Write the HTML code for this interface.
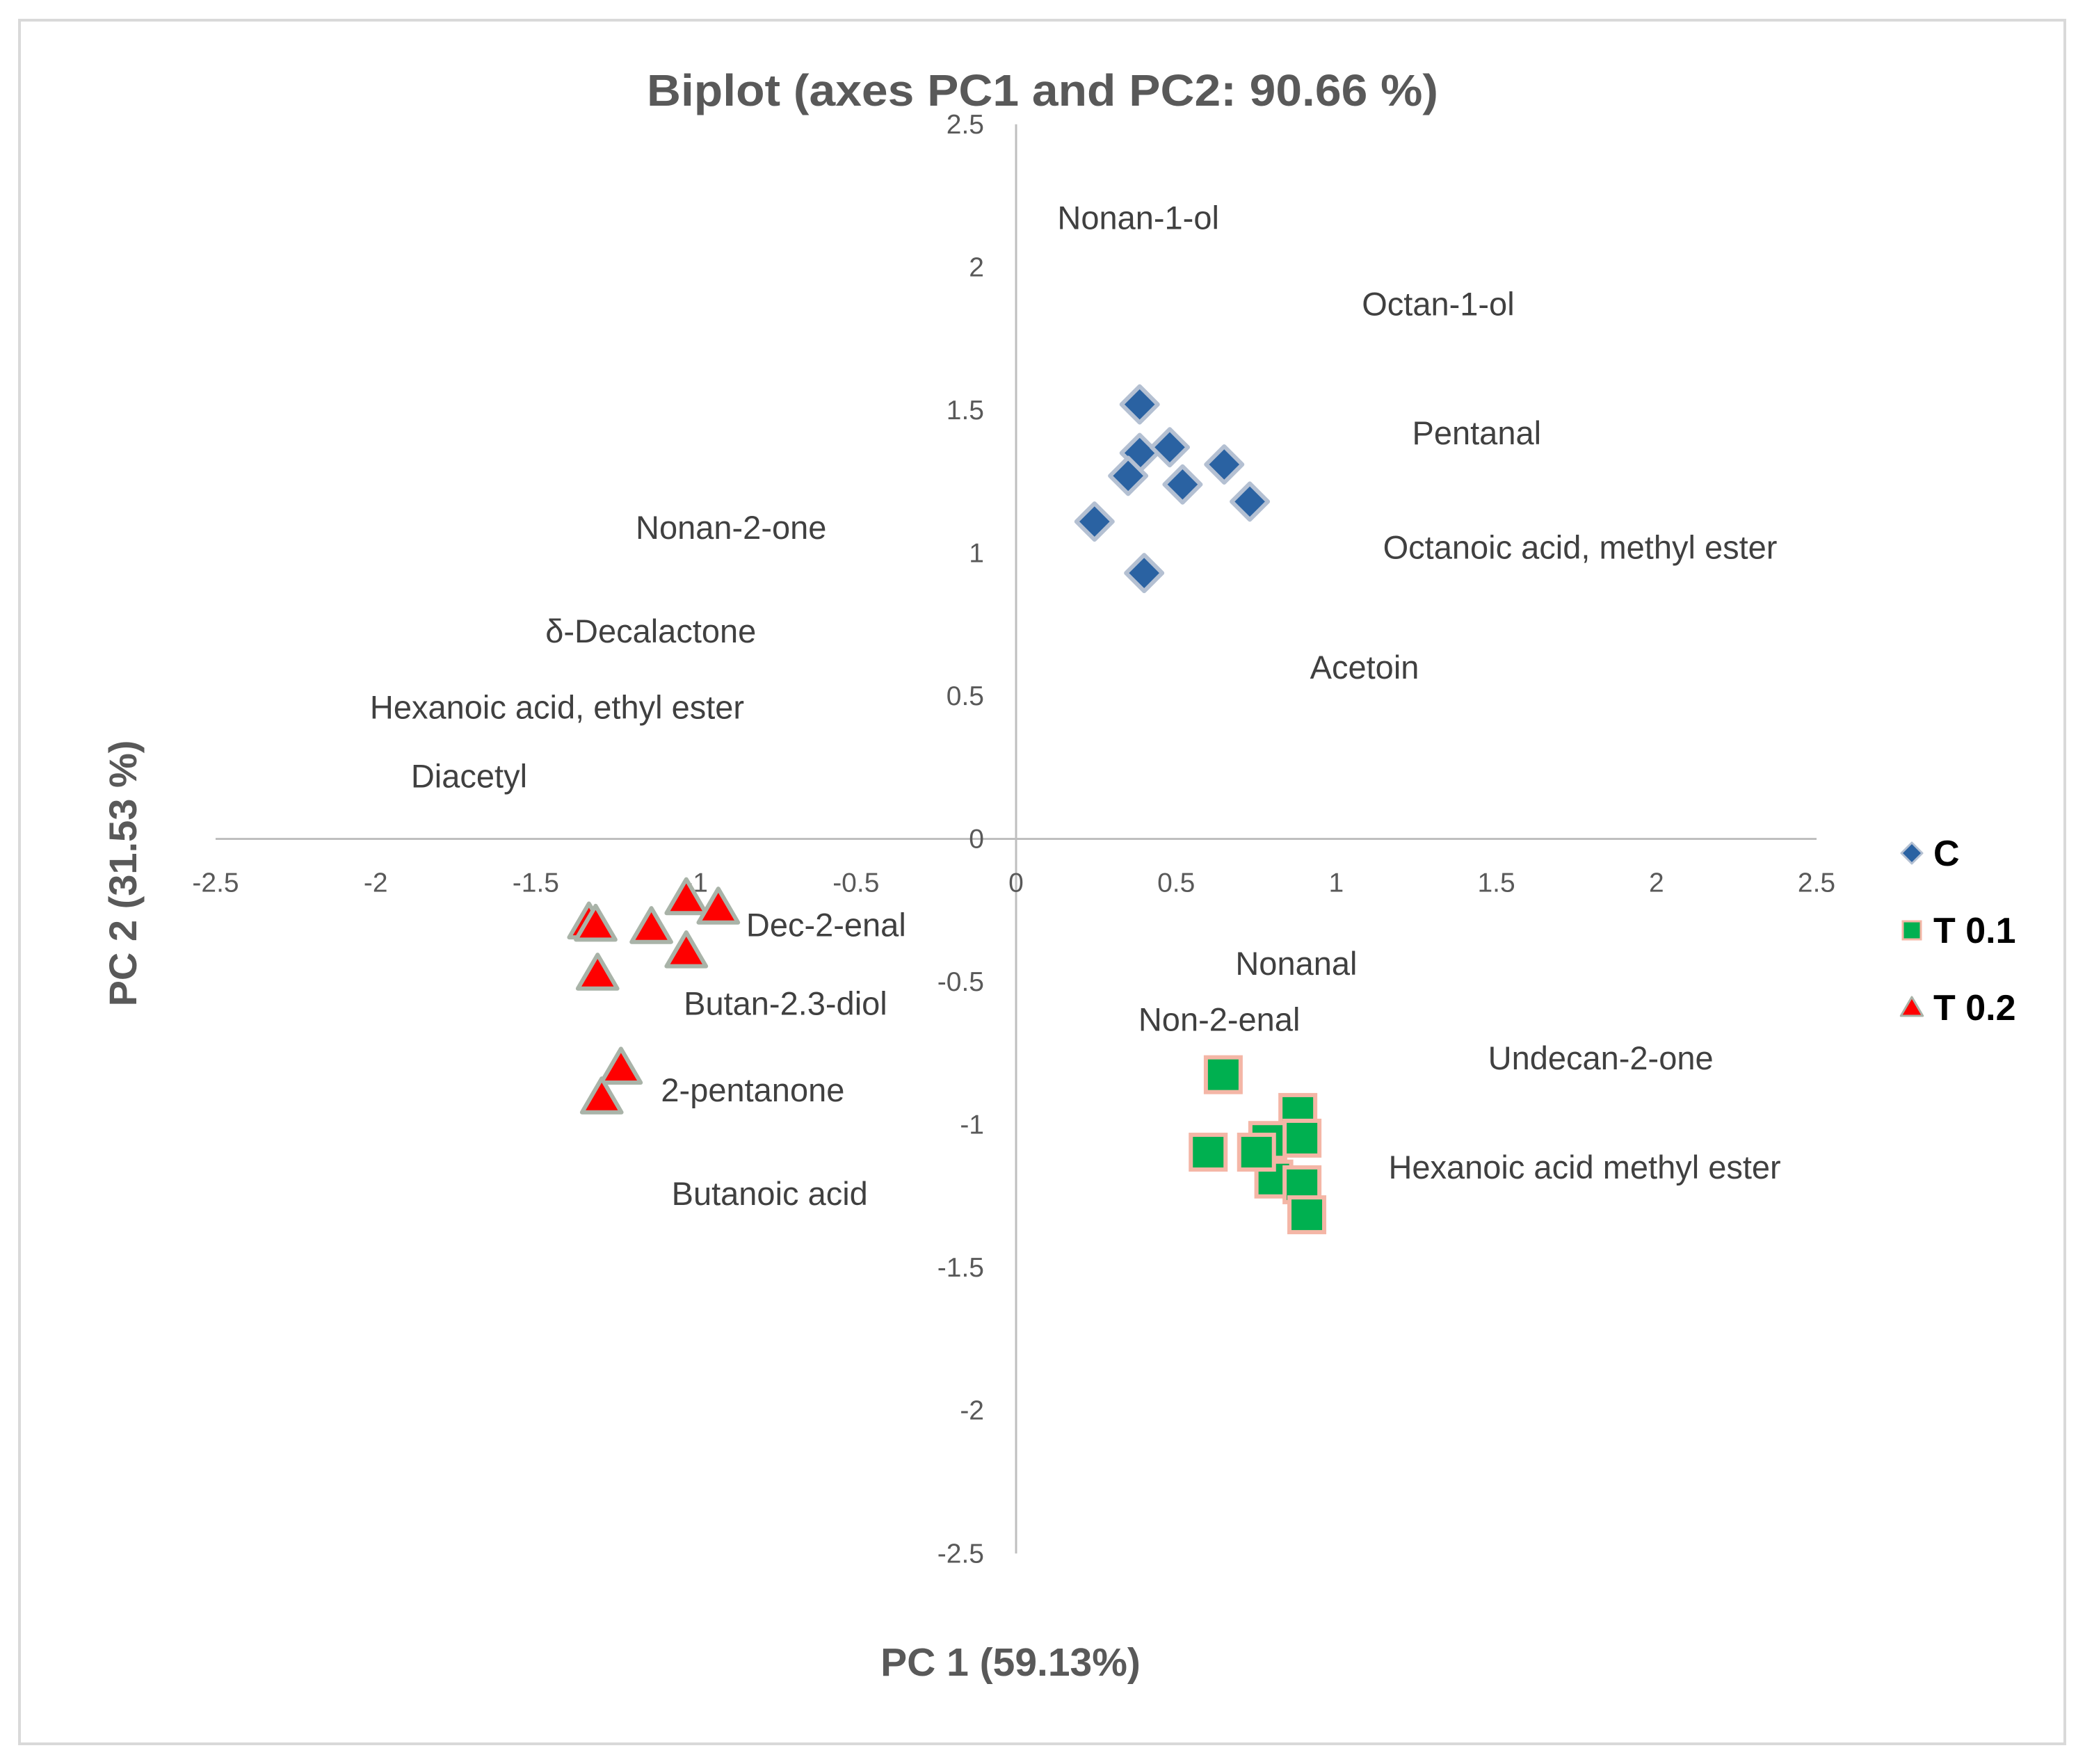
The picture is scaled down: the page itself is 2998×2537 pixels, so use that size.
<!DOCTYPE html>
<html><head><meta charset="utf-8"><style>
html,body{margin:0;padding:0;background:#fff}
svg{display:block}
text{font-family:"Liberation Sans",sans-serif}
</style></head><body>
<svg id="chart" width="2998" height="2537" viewBox="0 0 2998 2537">
<rect x="28" y="29" width="2941" height="2479" fill="#fff" stroke="#d9d9d9" stroke-width="4"/>
<text x="1499" y="152" text-anchor="middle" font-size="64" font-weight="bold" fill="#595959" textLength="1138" lengthAdjust="spacingAndGlyphs">Biplot (axes PC1 and PC2: 90.66 %)</text>
<text x="1453" y="2410" text-anchor="middle" font-size="57" font-weight="bold" fill="#595959">PC 1 (59.13%)</text>
<text transform="translate(196,1256) rotate(-90)" text-anchor="middle" font-size="56" font-weight="bold" fill="#595959">PC 2 (31.53 %)</text>
<g id="axes"></g><g id="labels"></g><g id="marks"></g><g id="legend"></g>
</svg>
<script>
const xTicks=[-2.5,-2,-1.5,-1,-0.5,0,0.5,1,1.5,2,2.5];
const yTicks=[2.5,2,1.5,1,0.5,0,-0.5,-1,-1.5,-2,-2.5];
const cX=[0.386,0.386,0.48,0.35,0.52,0.65,0.73,0.245,0.40];
const cY=[1.52,1.35,1.37,1.27,1.24,1.31,1.18,1.11,0.93];
const t1X=[0.647,0.88,0.786,0.805,0.893,0.60,0.751,0.893,0.908];
const t1Y=[-0.825,-0.957,-1.055,-1.19,-1.047,-1.096,-1.096,-1.21,-1.315];
const t2X=[-1.334,-1.313,-1.139,-1.03,-0.93,-1.03,-1.307,-1.234,-1.294];
const t2Y=[-0.292,-0.30,-0.308,-0.207,-0.24,-0.393,-0.471,-0.80,-0.904];
const varNames=["Nonan-1-ol","Octan-1-ol","Pentanal","Octanoic acid, methyl ester","Acetoin","Nonan-2-one","δ-Decalactone","Hexanoic acid, ethyl ester","Diacetyl","Dec-2-enal","Butan-2.3-diol","2-pentanone","Butanoic acid","Nonanal","Non-2-enal","Undecan-2-one","Hexanoic acid methyl ester"];
const varX=[0.129,1.080,1.237,1.146,0.918,-1.188,-1.470,-2.018,-1.89,-0.843,-1.038,-1.109,-1.076,0.685,0.382,1.474,1.163];
const varY=[2.172,1.870,1.419,1.019,0.600,1.088,0.726,0.460,0.219,-0.302,-0.577,-0.879,-1.242,-0.437,-0.633,-0.767,-1.149];

const NS="http://www.w3.org/2000/svg";
const X0=1461,XU=460.4,Y0=1206.5,YU=411.1;
const sx=v=>X0+v*XU, sy=v=>Y0-v*YU;
function mk(tag,attrs,parent,txt){const e=document.createElementNS(NS,tag);for(const k in attrs)e.setAttribute(k,attrs[k]);if(txt!==undefined)e.textContent=txt;parent.appendChild(e);return e;}
const axes=document.getElementById('axes');
let l=mk('line',{x1:sx(-2.5),x2:sx(2.5),y1:sy(0),y2:sy(0),stroke:'#bfbfbf','stroke-width':3},axes);


l=mk('line',{x1:sx(0),x2:sx(0),y1:sy(2.5),y2:sy(-2.5),stroke:'#bfbfbf','stroke-width':3},axes);


xTicks.forEach(v=>{const t=mk('text',{x:sx(v),y:sy(0)+76,'text-anchor':'middle','font-size':39,fill:'#595959'},axes,String(v));

});
yTicks.forEach(v=>{const t=mk('text',{x:sx(0)-46,y:sy(v)+13,'text-anchor':'end','font-size':39,fill:'#595959'},axes,String(v));

});
const labels=document.getElementById('labels');
varNames.forEach((n,i)=>{const t=mk('text',{x:sx(varX[i]),y:sy(varY[i])+16,'font-size':47,fill:'#404040'},labels,n);

});
const marks=document.getElementById('marks');
function diamond(x,y,r,g){return mk('polygon',{points:`${x},${y-r} ${x+r},${y} ${x},${y+r} ${x-r},${y}`,fill:'#2a62a2',stroke:'#b4c0d2','stroke-width':r>20?6:3,'stroke-linejoin':'round'},g);}
function square(x,y,r,g){return mk('rect',{x:x-r,y:y-r,width:2*r,height:2*r,fill:'#00b050',stroke:'#f4b6a6','stroke-width':r>20?6:3},g);}
function tri(x,y,r,g){return mk('polygon',{points:`${x},${y-r} ${x+r*1.05},${y+r*0.8} ${x-r*1.05},${y+r*0.8}`,fill:'#ff0000',stroke:'#a9b3a8','stroke-width':r>20?6:3,'stroke-linejoin':'round'},g);}
cX.forEach((v,i)=>{const m=diamond(sx(v),sy(cY[i]),26,marks);

});
t1X.forEach((v,i)=>{const m=square(sx(v),sy(t1Y[i]),25,marks);

});
t2X.forEach((v,i)=>{const m=tri(sx(v),sy(t2Y[i]),27,marks);

});
const lg=document.getElementById('legend');
const legNames=["C","T 0.1","T 0.2"];
const legFns=[diamond,square,tri];
legNames.forEach((n,i)=>{const y=1227+i*111;const m=legFns[i](2749,y,i==1?13:15,lg);


const t=mk('text',{x:2780,y:y+18,'font-size':52,'font-weight':'bold',fill:'#000'},lg,n);

});
</script>
</body></html>
